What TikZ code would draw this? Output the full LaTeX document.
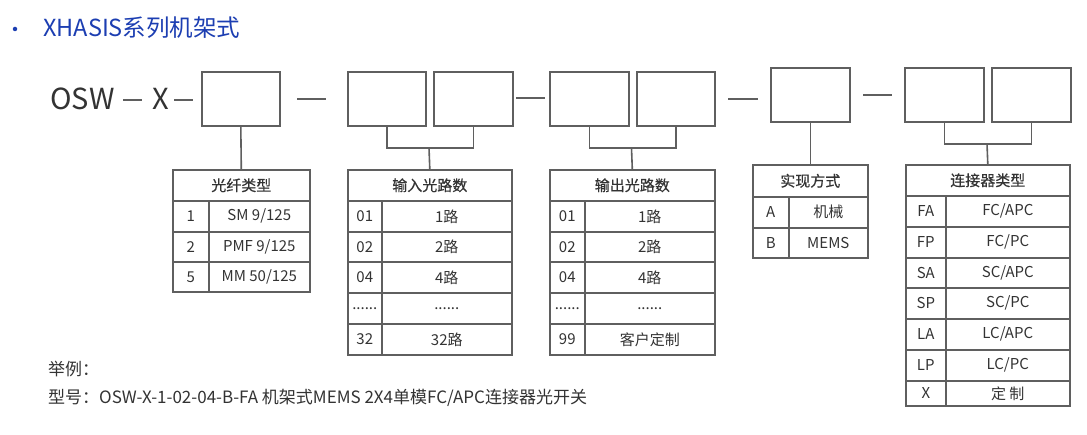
\documentclass[tikz,border=0pt]{standalone}
\usepackage{fontspec}
\setmainfont{Noto Sans CJK SC}
\newfontfamily\hdfont[FakeBold=0.5]{Noto Sans CJK SC}
\definecolor{ttl}{RGB}{28,62,178}
\definecolor{ln}{RGB}{95,95,95}
\definecolor{tx}{RGB}{51,51,51}
\newcommand\mkrow[8]{%
  \node[cell,minimum width={((#3)-(#2))*1pt},minimum height={(#6)*1pt}] (#1a) at (#2,#5) {#7};
  \node[cell,minimum width={((#4)-(#3))*1pt},minimum height={(#6)*1pt}] (#1b) at (#3,#5) {#8};}
\begin{document}
\begin{tikzpicture}[x=1pt,y=-1pt,
  box/.style={draw=ln,line width=1.6pt,anchor=north west,inner sep=0pt},
  cell/.style={draw=ln,line width=1.6pt,anchor=north west,inner sep=0pt,text=tx,font=\fontsize{15}{15}\selectfont},
  hcell/.style={cell,font=\hdfont\fontsize{15}{15}\selectfont},
  wire/.style={draw=ln,line width=1.6pt},
  dashline/.style={draw=ln,line width=1.5pt},
  big/.style={anchor=base west,inner sep=0pt,text=tx,font=\fontsize{29}{29}\selectfont},
  note/.style={anchor=base west,inner sep=0pt,text=tx,font=\fontsize{17}{17}\selectfont}]
\useasboundingbox[fill=white] (0,0) rectangle (1087,435);
% title
\node[circle,fill=ttl,inner sep=0pt,minimum size=4.5pt] (bul) at (15,29) {};
\node[anchor=base west,inner sep=0pt,text=ttl,font=\fontsize{23.5}{23.5}\selectfont] (title) at (43,36.5) {XHASIS系列机架式};
% model code
\node[big] (osw) at (50,110) {OSW};
\node[big] (xx) at (152,110) {X};
\draw[dashline] (123,100) -- (142,100);
\draw[dashline] (174,100) -- (193,100);
\draw[dashline] (297,99) -- (326,99);
\draw[dashline] (516,98) -- (545,98);
\draw[dashline] (728,99) -- (758,99);
\draw[dashline] (863,95) -- (892,95);
% boxes
\node[box,minimum width=78pt,minimum height=54pt] (b1) at (201,71) {};
\node[box,minimum width=78pt,minimum height=54pt] (b2a) at (347,71) {};
\node[box,minimum width=79pt,minimum height=54pt] (b2b) at (433,71) {};
\node[box,minimum width=79pt,minimum height=54pt] (b3a) at (549,71) {};
\node[box,minimum width=78pt,minimum height=54pt] (b3b) at (636,71) {};
\node[box,minimum width=79pt,minimum height=54pt] (b4) at (770,67) {};
\node[box,minimum width=79pt,minimum height=54pt] (b5a) at (904,67) {};
\node[box,minimum width=79pt,minimum height=54pt] (b5b) at (991,67) {};
% table 1
\node[hcell,minimum width=137pt,minimum height=31pt] (t1h) at (172,169) {光纤类型};
\mkrow{t1r1}{172}{208}{309}{200}{31}{1}{SM 9/125}
\mkrow{t1r2}{172}{208}{309}{231}{30}{2}{PMF 9/125}
\mkrow{t1r3}{172}{208}{309}{261}{30}{5}{MM 50/125}
% table 2
\node[hcell,minimum width=164pt,minimum height=31pt] (t2h) at (347,169) {输入光路数};
\mkrow{t2r1}{347}{381}{511}{200}{31}{01}{1路}
\mkrow{t2r2}{347}{381}{511}{231}{30}{02}{2路}
\mkrow{t2r3}{347}{381}{511}{261}{31}{04}{4路}
\mkrow{t2r4}{347}{381}{511}{292}{31}{......}{......}
\mkrow{t2r5}{347}{381}{511}{323}{31}{32}{32路}
% table 3
\node[hcell,minimum width=165pt,minimum height=31pt] (t3h) at (549,169) {输出光路数};
\mkrow{t3r1}{549}{584}{714}{200}{31}{01}{1路}
\mkrow{t3r2}{549}{584}{714}{231}{30}{02}{2路}
\mkrow{t3r3}{549}{584}{714}{261}{31}{04}{4路}
\mkrow{t3r4}{549}{584}{714}{292}{31}{......}{......}
\mkrow{t3r5}{549}{584}{714}{323}{31}{99}{客户定制}
% table 4
\node[hcell,minimum width=115pt,minimum height=32pt] (t4h) at (752,164) {实现方式};
\mkrow{t4r1}{752}{788}{867}{196}{31}{A}{机械}
\mkrow{t4r2}{752}{788}{867}{227}{30}{B}{MEMS}
% table 5
\node[hcell,minimum width=164pt,minimum height=31pt] (t5h) at (905,164) {连接器类型};
\mkrow{t5r1}{905}{945}{1069}{195}{31}{FA}{FC/APC}
\mkrow{t5r2}{905}{945}{1069}{226}{31}{FP}{FC/PC}
\mkrow{t5r3}{905}{945}{1069}{257}{30}{SA}{SC/APC}
\mkrow{t5r4}{905}{945}{1069}{287}{31}{SP}{SC/PC}
\mkrow{t5r5}{905}{945}{1069}{318}{31}{LA}{LC/APC}
\mkrow{t5r6}{905}{945}{1069}{349}{31}{LP}{LC/PC}
\mkrow{t5r7}{905}{945}{1069}{380}{25}{X}{定\ 制}
% connectors
\draw[wire] (b1.south) -- (t1h.north);
\coordinate (j2) at (429,148);
\draw[wire] (b2a.south) |- (j2) -| (b2b.south);
\draw[wire] (j2) -- (t2h.north);
\coordinate (j3) at (631.5,148);
\draw[wire] (b3a.south) |- (j3) -| (b3b.south);
\draw[wire] (j3) -- (t3h.north);
\draw[wire] (b4.south) -- (t4h.north);
\coordinate (j5) at (987,144);
\draw[wire] (b5a.south) |- (j5) -| (b5b.south);
\draw[wire] (j5) -- (t5h.north);
% notes
\node[note] (ex) at (48,376) {举例：};
\node[note] (model) at (48,404) {型号：OSW-X-1-02-04-B-FA 机架式MEMS 2X4单模FC/APC连接器光开关};
\end{tikzpicture}
\end{document}
